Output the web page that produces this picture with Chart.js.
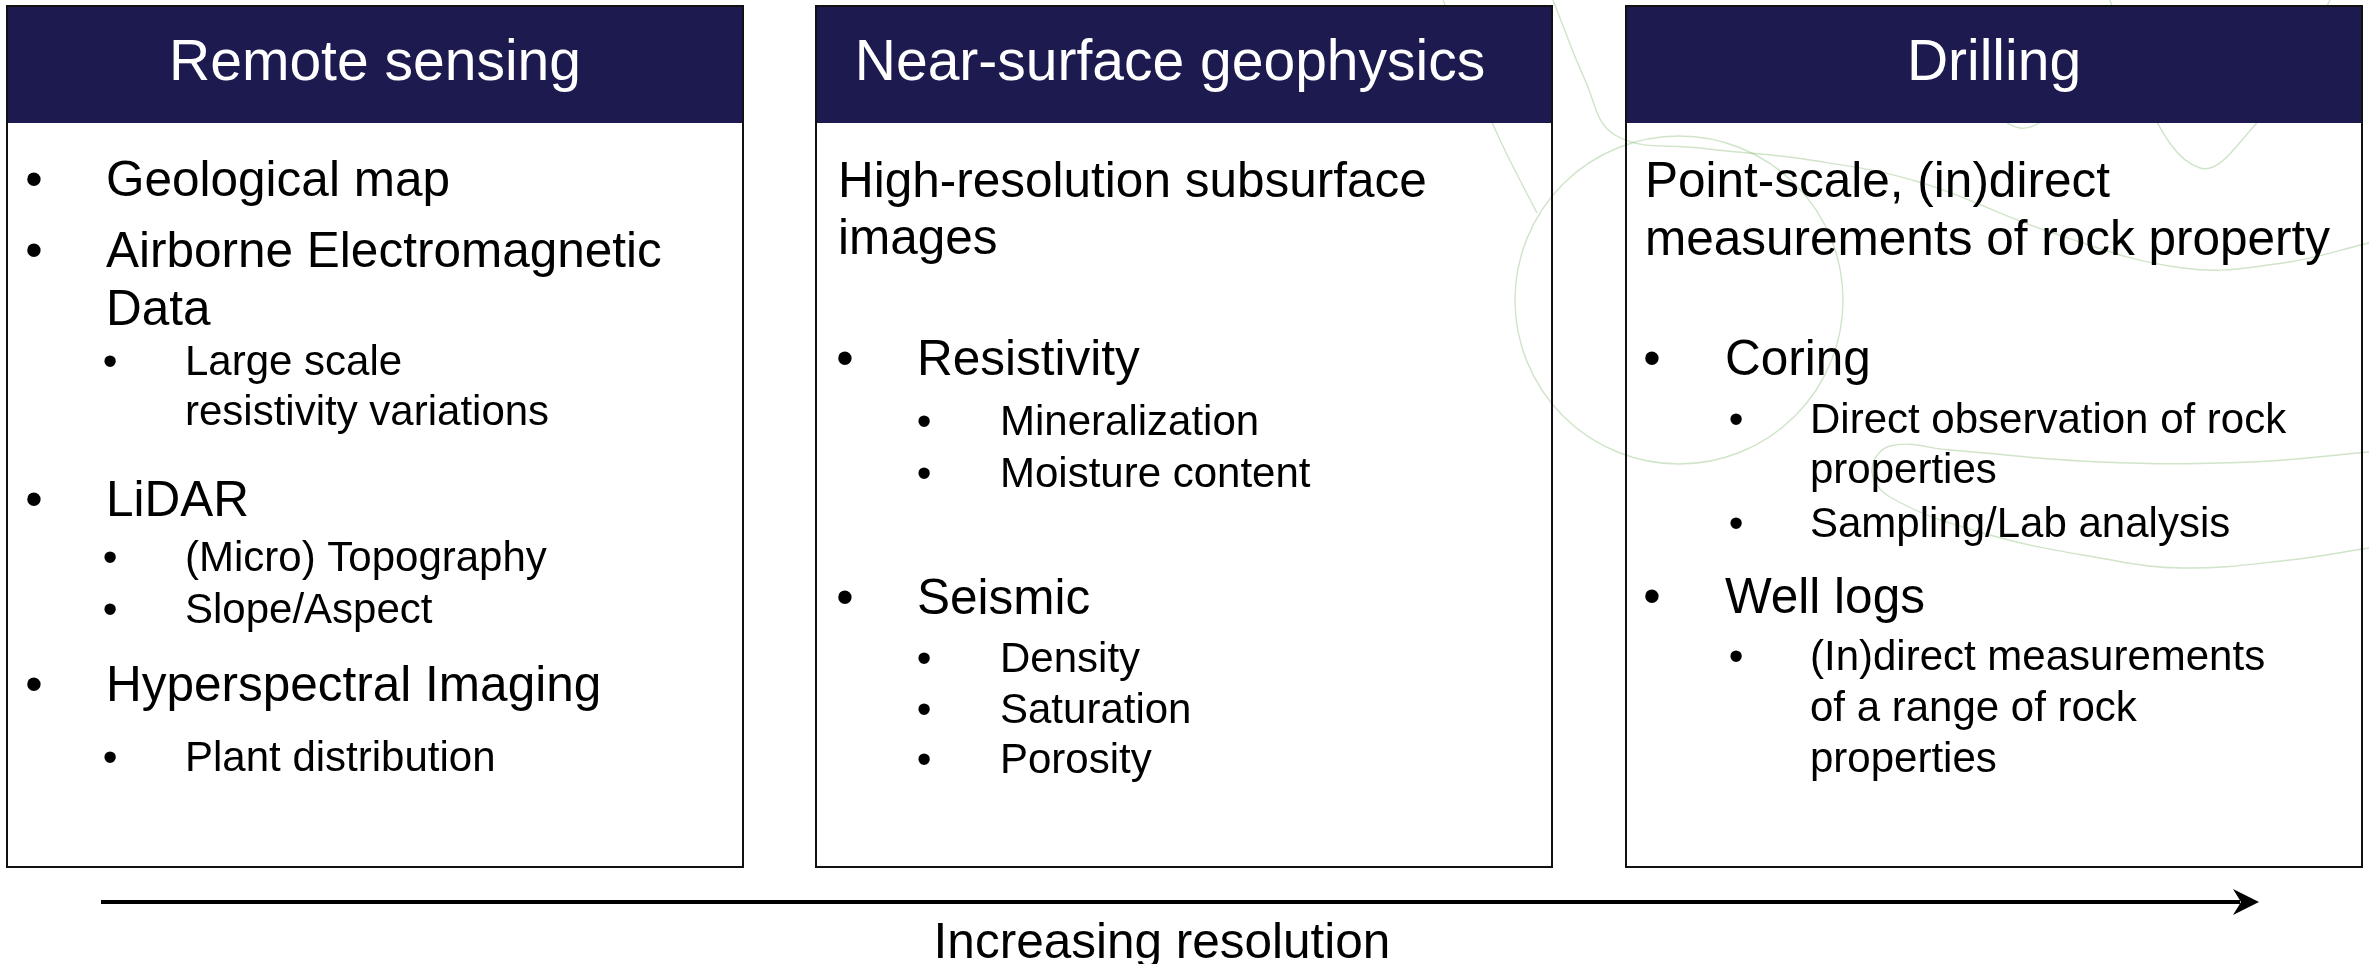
<!DOCTYPE html>
<html>
<head>
<meta charset="utf-8">
<script src="https://cdn.jsdelivr.net/npm/chart.js@4.4.1/dist/chart.umd.min.js"></script>
<style>
html,body{margin:0;padding:0;background:#ffffff;overflow:hidden}
#wrap{width:2369px;height:964px;position:relative}
</style>
</head>
<body>
<div id="wrap"><canvas id="c" width="2369" height="964"></canvas></div>
<script>
// ---------- content ----------
const headers = ['Remote sensing', 'Near-surface geophysics', 'Drilling'];

const col1Text = [['Geological map'], ['Airborne Electromagnetic', 'Data'], ['Large scale', 'resistivity variations'],
  ['LiDAR'], ['(Micro) Topography'], ['Slope/Aspect'], ['Hyperspectral Imaging'], ['Plant distribution']];
const col1Level = [1, 1, 2, 1, 2, 2, 1, 2];

const col2Text = [['High-resolution subsurface', 'images'], ['Resistivity'], ['Mineralization'], ['Moisture content'],
  ['Seismic'], ['Density'], ['Saturation'], ['Porosity']];
const col2Level = [0, 1, 2, 2, 1, 2, 2, 2];

const col3Text = [['Point-scale, (in)direct', 'measurements of rock property'], ['Coring'],
  ['Direct observation of rock', 'properties'], ['Sampling/Lab analysis'], ['Well logs'],
  ['(In)direct measurements', 'of a range of rock', 'properties']];
const col3Level = [0, 1, 2, 2, 1, 2];

const axisLabel = 'Increasing resolution';

// ---------- layout (scale units = page pixels) ----------
const col1LineY = [196, 267, 325, 375, 425, 516, 571, 623, 701, 771];
const col2LineY = [197, 254, 375, 435, 487, 614, 672, 723, 773];
const col3LineY = [197, 255, 375, 433, 483, 537, 613, 670, 721, 772];
const boxLeft = [7, 816, 1626];
const headShift = [0, -14, 0];
const BOX_W = 736, BOX_TOP = 6, HEAD_BOTTOM = 123, BOX_BOTTOM = 867, HEAD_BASE = 80;
const OFF = [
  {t0: 21, b1: 27, t1: 99, b2: 103, t2: 178},
  {t0: 22, b1: 29, t1: 101, b2: 108, t2: 184},
  {t0: 19, b1: 26, t1: 99, b2: 110, t2: 184}
];
const ARROW = {x0: 101, x1: 2240, tip: 2259, y: 902};
const LABEL = {x: 1162, y: 958};
const NAVY = '#1c1a4f';
const FONT = '"Liberation Sans", Arial, Helvetica, sans-serif';
const GREEN = 'rgba(125,180,105,0.36)';

// decorative background swirls
const decoA = [{x:1443,y:0},{x:1468,y:65},{x:1500,y:140},{x:1537,y:213}];
const decoB = [{x:1553,y:0},{x:1585,y:80},{x:1615,y:135},{x:1700,y:148},{x:1810,y:160},{x:1919,y:182},
  {x:2050,y:232},{x:2183,y:268},{x:2283,y:263},{x:2369,y:243}];
const decoC = [{x:2110,y:0},{x:2140,y:90},{x:2200,y:168},{x:2255,y:125},{x:2300,y:60},{x:2330,y:0}];
const decoD = [{x:2369,y:452},{x:2250,y:462},{x:2100,y:462},{x:1950,y:450},{x:1890,y:446},{x:1872,y:470},
  {x:1890,y:497},{x:1983,y:533},{x:2100,y:558},{x:2183,y:568},{x:2290,y:560},{x:2369,y:548}];
const decoE = [{x:1990,y:110},{x:2020,y:128},{x:2050,y:118}];
const decoCircle = {x:1679, y:300, r:164};
const arrowLine = [{x:ARROW.x0, y:ARROW.y}, {x:ARROW.x1, y:ARROW.y}];

const columns = [
  {text: col1Text, level: col1Level, lineY: col1LineY},
  {text: col2Text, level: col2Level, lineY: col2LineY},
  {text: col3Text, level: col3Level, lineY: col3LineY}
];

const diagramPlugin = {
  id: 'diagram',
  beforeDatasetsDraw(chart) {
    const ctx = chart.ctx;
    const sx = chart.scales.x, sy = chart.scales.y;
    const cx = sx.getPixelForValue(decoCircle.x), cy = sy.getPixelForValue(decoCircle.y);
    const r = sx.getPixelForValue(decoCircle.x + decoCircle.r) - cx;
    ctx.save();
    ctx.strokeStyle = GREEN;
    ctx.lineWidth = 1.4;
    ctx.beginPath();
    ctx.arc(cx, cy, r, 0, Math.PI * 2);
    ctx.stroke();
    ctx.restore();
  },
  afterDatasetsDraw(chart) {
    const ctx = chart.ctx;
    const sx = chart.scales.x, sy = chart.scales.y;
    const px = v => sx.getPixelForValue(v), py = v => sy.getPixelForValue(v);
    ctx.save();
    for (let i = 0; i < 3; i++) {
      const L = px(boxLeft[i]), R = px(boxLeft[i] + BOX_W);
      const T = py(BOX_TOP), H = py(HEAD_BOTTOM), B = py(BOX_BOTTOM);
      const off = OFF[i];
      ctx.fillStyle = NAVY;
      ctx.fillRect(L, T, R - L, H - T);
      ctx.strokeStyle = '#111';
      ctx.lineWidth = 2;
      ctx.strokeRect(L, T, R - L, B - T);
      ctx.fillStyle = '#ffffff';
      ctx.font = '57px ' + FONT;
      ctx.textAlign = 'center';
      ctx.textBaseline = 'alphabetic';
      ctx.fillText(headers[i], (L + R) / 2 + headShift[i], py(HEAD_BASE));

      const col = columns[i];
      let li = 0;
      col.text.forEach((lines, k) => {
        const lev = col.level[k];
        const size = lev === 2 ? 42 : 49.5;
        ctx.font = size + 'px ' + FONT;
        ctx.fillStyle = '#000';
        const tx = lev === 0 ? off.t0 : (lev === 1 ? off.t1 : off.t2);
        lines.forEach((s, j) => {
          const yy = py(col.lineY[li++]);
          if (j === 0 && lev > 0) {
            ctx.textAlign = 'center';
            ctx.fillText('\u2022', L + (lev === 1 ? off.b1 : off.b2), yy);
          }
          ctx.textAlign = 'left';
          ctx.fillText(s, L + tx, yy);
        });
      });
    }
    // arrow head
    const tipX = px(ARROW.tip), ay = py(ARROW.y);
    ctx.fillStyle = '#000';
    ctx.beginPath();
    ctx.moveTo(tipX, ay);
    ctx.lineTo(tipX - 26, ay - 13);
    ctx.lineTo(tipX - 18, ay);
    ctx.lineTo(tipX - 26, ay + 13);
    ctx.closePath();
    ctx.fill();
    // axis label
    ctx.font = '49.5px ' + FONT;
    ctx.textAlign = 'center';
    ctx.fillText(axisLabel, px(LABEL.x), py(LABEL.y));
    ctx.restore();
  }
};

const decoStyle = {showLine: true, tension: 0.4, pointRadius: 0, borderColor: GREEN, borderWidth: 1.4, fill: false};

new Chart(document.getElementById('c'), {
  type: 'scatter',
  data: {
    datasets: [
      Object.assign({label: 'a', data: decoA}, decoStyle),
      Object.assign({label: 'b', data: decoB}, decoStyle),
      Object.assign({label: 'c', data: decoC}, decoStyle),
      Object.assign({label: 'd', data: decoD}, decoStyle),
      Object.assign({label: 'e', data: decoE}, decoStyle),
      {label: 'arrow', data: arrowLine, showLine: true, tension: 0, pointRadius: 0, borderColor: '#000', borderWidth: 4}
    ]
  },
  options: {
    responsive: false,
    devicePixelRatio: 1,
    animation: false,
    events: [],
    layout: {padding: 0},
    scales: {
      x: {type: 'linear', min: 0, max: 2369, display: false},
      y: {type: 'linear', min: 0, max: 964, reverse: true, display: false}
    },
    plugins: {legend: {display: false}, tooltip: {enabled: false}, title: {display: false}}
  },
  plugins: [diagramPlugin]
});
</script>
</body>
</html>
